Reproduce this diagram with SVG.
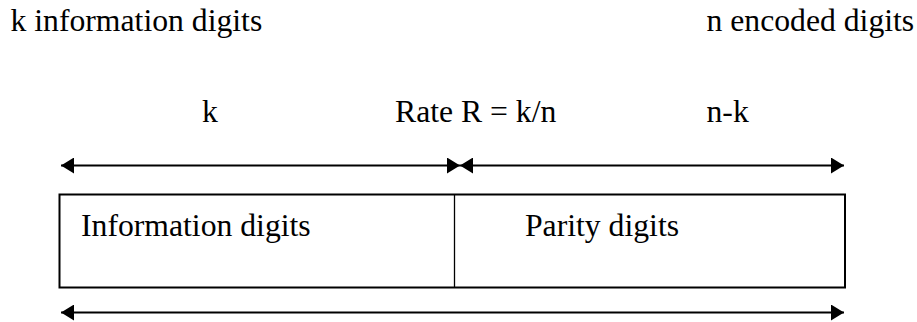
<svg xmlns="http://www.w3.org/2000/svg" width="917" height="322" viewBox="0 0 917 322">
<style>
text{font-family:"Liberation Serif","Times New Roman",serif;font-size:31.7px;fill:#000}
.box{fill:#fff;stroke:#000;stroke-width:2}
.div{stroke:#000;stroke-width:1.3}
.conn{stroke:#000;stroke-width:2;fill:none}
</style>
<defs>
<marker id="ah" markerUnits="userSpaceOnUse" viewBox="0 0 13 16" refX="13" refY="8" markerWidth="13" markerHeight="16" orient="auto-start-reverse">
<path d="M0,0 L13,8 L0,16 Z" fill="#000"/>
</marker>
</defs>
<rect width="917" height="322" fill="#fff"/>
<g id="labels">
<text x="10.5" y="31">k information digits</text>
<text x="706.5" y="31">n encoded digits</text>
<text x="202" y="122">k</text>
<text x="395" y="122">Rate R = k/n</text>
<text x="706.5" y="122">n-k</text>
</g>
<g id="codeword">
<rect class="box" x="59.5" y="194.5" width="785.5" height="93"/>
<line class="div" x1="454.5" y1="194.5" x2="454.5" y2="287.5"/>
</g>
<g id="info-digits"><text x="81" y="236">Information digits</text></g>
<g id="parity-digits"><text x="525" y="236">Parity digits</text></g>
<g id="connectors">
<line class="conn" x1="61" y1="165.5" x2="460" y2="165.5" marker-start="url(#ah)" marker-end="url(#ah)"/>
<line class="conn" x1="460" y1="165.5" x2="844" y2="165.5" marker-start="url(#ah)" marker-end="url(#ah)"/>
<line class="conn" x1="61" y1="312.5" x2="844" y2="312.5" marker-start="url(#ah)" marker-end="url(#ah)"/>
</g>
</svg>
